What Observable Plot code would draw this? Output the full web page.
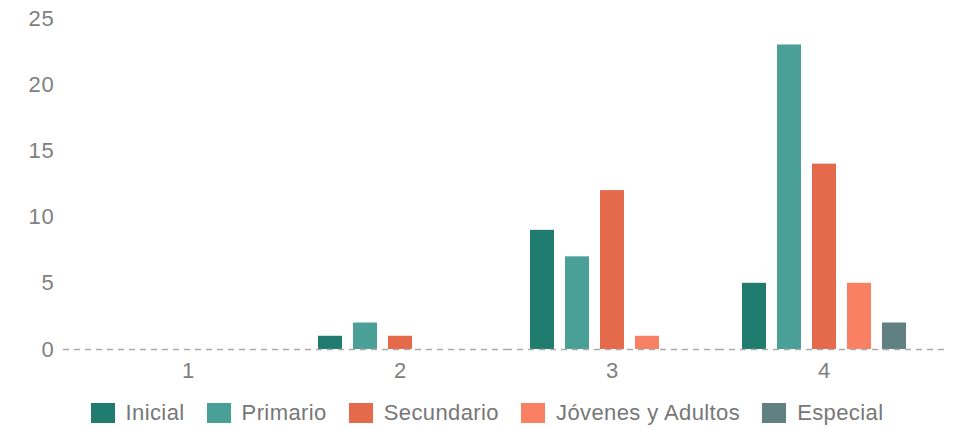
<!DOCTYPE html>
<html><head><meta charset="utf-8">
<script src="https://cdn.jsdelivr.net/npm/d3@7"></script>
<script src="https://cdn.jsdelivr.net/npm/@observablehq/plot@0.6"></script>
<style>
body{margin:0;background:#fff;font-family:"Liberation Sans",Arial,sans-serif;}
#legend > div{justify-content:center;margin-top:6px;padding-left:40px;letter-spacing:0.4px;}
#chart svg text{letter-spacing:0.8px;}
</style></head><body><div id="chart"></div><div id="legend"></div>
<script>
const groups = [1, 2, 3, 4];
const series = ["Inicial", "Primario", "Secundario", "Jóvenes y Adultos", "Especial"];
const inicial = [0, 1, 9, 5];
const primario = [0, 2, 7, 23];
const secundario = [0, 1, 12, 14];
const jovenesAdultos = [0, 0, 1, 5];
const especial = [0, 0, 0, 2];
const colors = ["#217c70", "#4aa096", "#e56a4b", "#fa8064", "#608082"];
const yTicks = [0, 5, 10, 15, 20, 25];

const values = [inicial, primario, secundario, jovenesAdultos, especial];
const data = groups.flatMap((g, i) => series.map((s, j) => ({group: g, serie: s, value: values[j][i]})));
const baseline = groups.map(g => ({group: g, value: 0}));
const first = groups[0], last = groups[groups.length - 1];
const ruleStyle = {fx: "group", y: "value", stroke: "#aaa", strokeDasharray: "6,5", strokeWidth: 1.5};

const plot = Plot.plot({
  width: 956, height: 390,
  marginLeft: 81, marginRight: 26, marginTop: 18, marginBottom: 41,
  style: {fontFamily: '"Liberation Sans", Arial, sans-serif', fontSize: "22px", color: "#808080", background: "#fff"},
  fx: {domain: groups, paddingInner: 0, paddingOuter: 0, label: null, axis: "bottom", tickSize: 0, tickPadding: 13},
  x: {domain: series, axis: null, paddingInner: 0.324, paddingOuter: 0.655},
  y: {domain: [0, 25], ticks: yTicks, tickSize: 0, tickPadding: 28, label: null},
  color: {domain: series, range: colors},
  marks: [
    Plot.barY(data, {fx: "group", x: "serie", y: "value", fill: "serie"}),
    Plot.ruleY(baseline.filter(d => d.group === first), {...ruleStyle, insetLeft: -19}),
    Plot.ruleY(baseline.filter(d => d.group !== first && d.group !== last), ruleStyle),
    Plot.ruleY(baseline.filter(d => d.group === last), {...ruleStyle, insetRight: -18})
  ]
});
document.getElementById("chart").appendChild(plot);
const lg = plot.legend("color", {swatchWidth: 24, swatchHeight: 20, style: {fontSize: "22px", color: "#777", fontFamily: '"Liberation Sans", Arial, sans-serif'}});
document.getElementById("legend").appendChild(lg);
</script></body></html>
